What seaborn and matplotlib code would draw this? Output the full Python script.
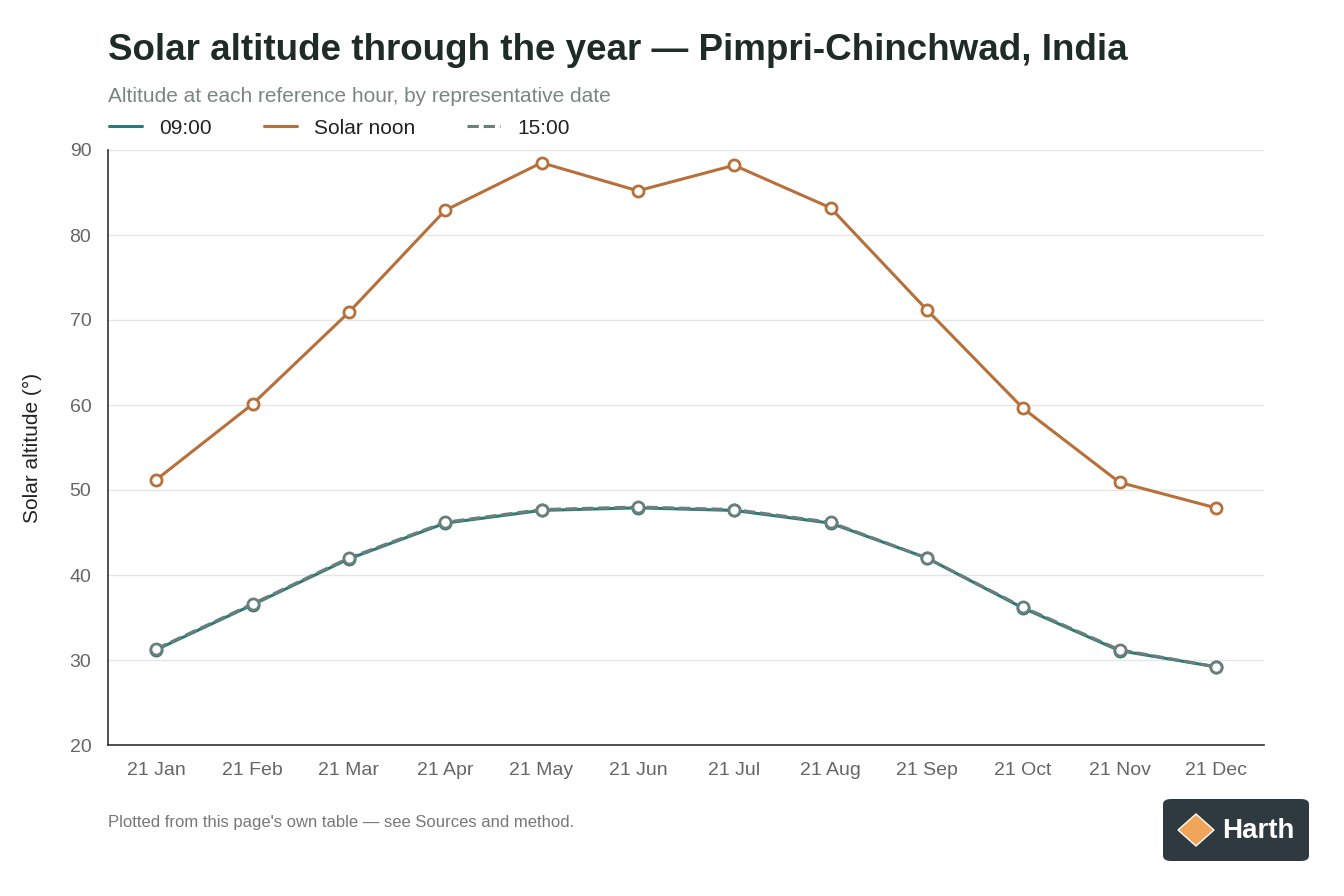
import matplotlib
matplotlib.use("Agg")
import matplotlib.pyplot as plt
import seaborn as sns
import pandas as pd
from matplotlib.patches import FancyBboxPatch, Polygon

dates = ["21 Jan", "21 Feb", "21 Mar", "21 Apr", "21 May", "21 Jun",
         "21 Jul", "21 Aug", "21 Sep", "21 Oct", "21 Nov", "21 Dec"]
alt_0900 = [31.2, 36.5, 41.9, 46.1, 47.6, 47.9, 47.6, 46.1, 42.0, 36.1, 31.1, 29.2]
alt_noon = [51.2, 60.1, 70.9, 82.9, 88.5, 85.2, 88.2, 83.2, 71.2, 59.6, 50.9, 47.9]
alt_1500 = [31.3, 36.6, 42.0, 46.2, 47.7, 48.0, 47.7, 46.2, 42.0, 36.2, 31.2, 29.2]

TEAL = "#2b7a77"
ORANGE = "#b8703a"
GREY = "#6a7f7b"

df = pd.DataFrame({"date": dates, "09:00": alt_0900,
                   "Solar noon": alt_noon, "15:00": alt_1500})
df["x"] = range(len(dates))

sns.set_theme(style="white")
plt.rcParams["font.family"] = ["Liberation Sans", "DejaVu Sans"]

fig = plt.figure(figsize=(13.44, 8.96), dpi=100)
ax = fig.add_axes([108 / 1344, 1 - 745 / 896, (1264 - 108) / 1344, (745 - 150) / 896])

specs = [("09:00", TEAL, "-"), ("Solar noon", ORANGE, "-"), ("15:00", GREY, "--")]
for name, col, ls in specs:
    sns.lineplot(data=df, x="x", y=name, ax=ax, color=col, linestyle=ls,
                 linewidth=2.2, marker="o", markersize=8, markerfacecolor="white",
                 markeredgecolor=col, markeredgewidth=2, label=name)

ax.set_ylim(20, 90)
ax.set_xlim(-0.5, 11.5)
ax.set_yticks(range(20, 91, 10))
ax.set_xticks(df["x"])
ax.set_xticklabels(dates)
ax.tick_params(axis="both", labelsize=14, colors="#666666", length=0, pad=12)
ax.grid(axis="y", color="#e6e6e6", linewidth=1)
ax.set_xlabel("")
ax.set_ylabel("Solar altitude (°)", fontsize=15, color="#222222", labelpad=20)
for s in ["top", "right"]:
    ax.spines[s].set_visible(False)
for s in ["left", "bottom"]:
    ax.spines[s].set_color("#333333")
    ax.spines[s].set_linewidth(1.2)

ax.legend(loc="lower left", bbox_to_anchor=(-0.01, 1.0), ncol=3, frameon=False,
          fontsize=15, handlelength=1.6, columnspacing=2.5, borderaxespad=0.2,
          labelcolor="#222222")
for line in ax.get_legend().get_lines():
    line.set_marker("")

fig.text(108 / 1344, 1 - 50 / 896, "Solar altitude through the year — Pimpri-Chinchwad, India",
         fontsize=26.5, fontweight="bold", color="#1e2b27", va="center")
fig.text(108 / 1344, 1 - 97 / 896, "Altitude at each reference hour, by representative date",
         fontsize=15, color="#7a8682", va="center")
fig.text(108 / 1344, 1 - 822 / 896, "Plotted from this page's own table — see Sources and method.",
         fontsize=12, color="#777777", va="center")

# logo badge
box = FancyBboxPatch((1163 / 1344, 1 - 861 / 896), 146 / 1344, 62 / 896,
                     boxstyle="round,pad=0,rounding_size=0.006",
                     transform=fig.transFigure, facecolor="#2f3a40", edgecolor="none")
fig.patches.append(box)
cube = Polygon([[1178, 830], [1196, 814], [1214, 830], [1196, 846]], closed=True,
               facecolor="#f0a55a")
cube.set_transform(matplotlib.transforms.Affine2D().scale(1 / 1344, -1 / 896).translate(0, 1) + fig.transFigure)
fig.patches.append(cube)
fig.text(1222 / 1344, 1 - 831 / 896, "Harth", fontsize=20, fontweight="bold",
         color="white", va="center")

fig.savefig("out.png", dpi=100, facecolor="white")
